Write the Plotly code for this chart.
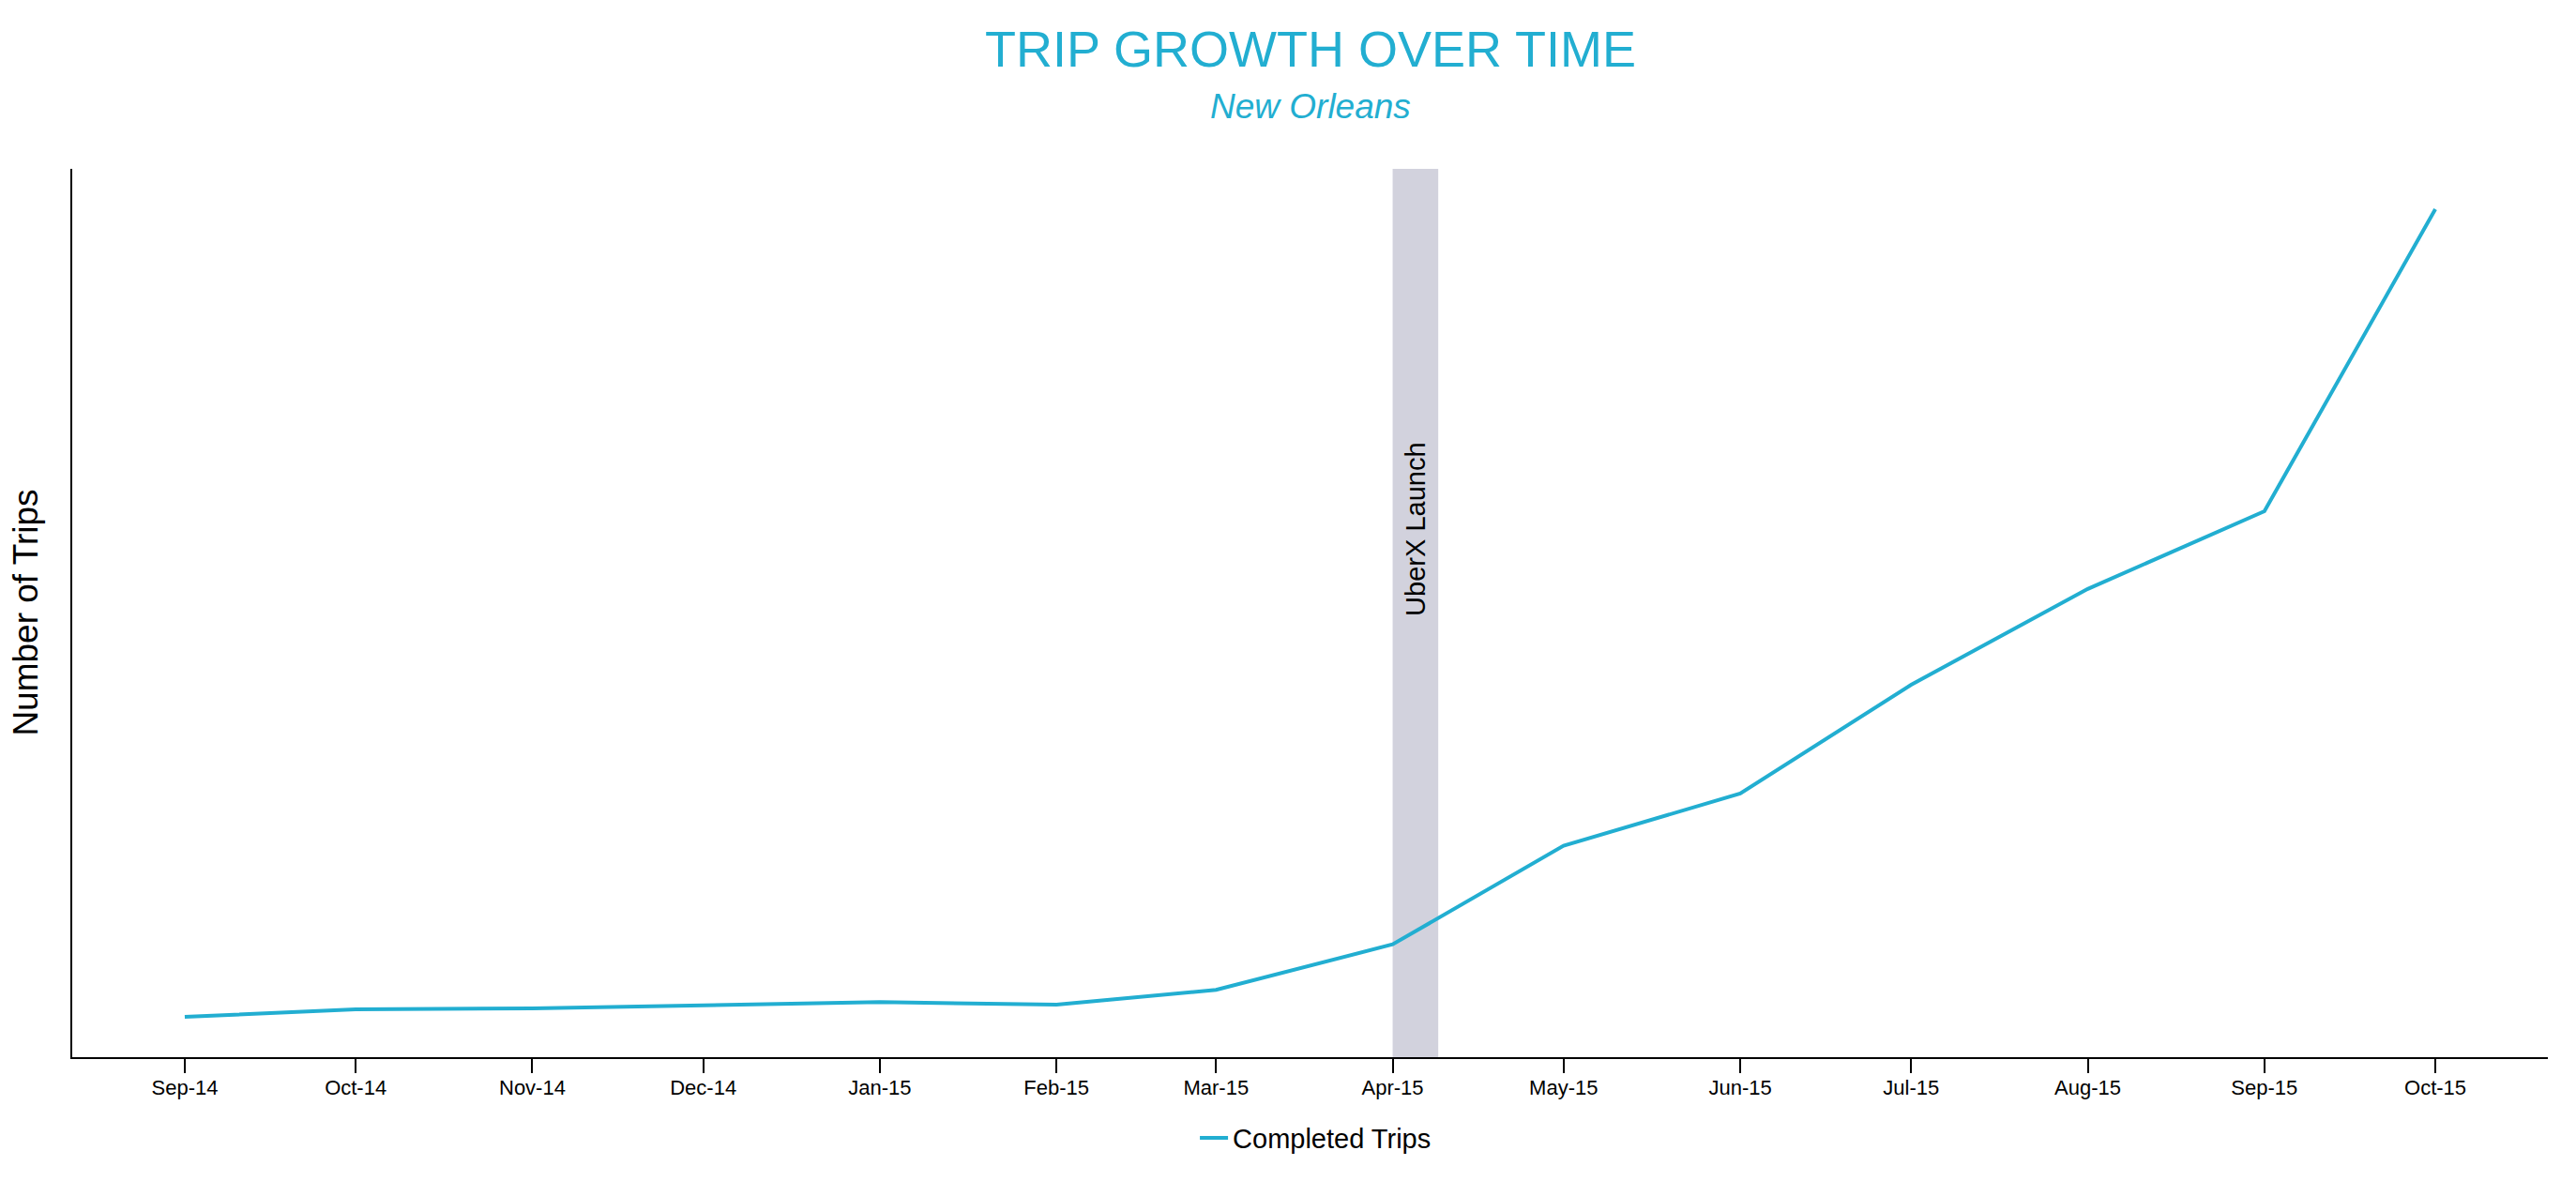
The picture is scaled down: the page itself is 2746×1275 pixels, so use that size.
import plotly.graph_objects as go

# monthly completed trips (thousands - y scale is not labelled)
months = ["2014-09-01", "2014-10-01", "2014-11-01", "2014-12-01", "2015-01-01",
          "2015-02-01", "2015-03-01", "2015-04-01", "2015-05-01", "2015-06-01",
          "2015-07-01", "2015-08-01", "2015-09-01", "2015-10-01"]
trips = [4.54, 5.39, 5.49, 5.81, 6.20, 5.91, 7.57, 12.70, 23.80, 29.68,
         41.92, 52.71, 61.46, 95.46]

launch_start = "2015-04-01"
launch_end = "2015-04-09"
launch_mid = "2015-04-05"
launch_label = "UberX Launch"

x_range = ["2014-08-12 06:00", "2015-10-20 18:00"]
y_range = [0, 100]

TEAL = "#22AED1"
FONT = "Liberation Sans, Arial, sans-serif"

fig = go.Figure()

fig.add_trace(go.Scatter(x=months,
                         y=trips,
                         mode="lines",
                         name="Completed Trips",
                         line=dict(color=TEAL, width=4)))

# uberx launch band
fig.add_shape(type="rect",
              xref="x", yref="paper",
              x0=launch_start, x1=launch_end, y0=0, y1=1,
              fillcolor="#D2D2DD", line=dict(width=0),
              layer="below")

fig.add_annotation(x=launch_mid, y=0.4947, xref="x", yref="paper",
                   text=launch_label, textangle=-90, showarrow=False,
                   xanchor="center", yanchor="bottom",
                   font=dict(family=FONT, size=29, color="black"))

# titles
fig.add_annotation(x=0.5, y=1.1347, xref="paper", yref="paper",
                   text="TRIP GROWTH OVER TIME", showarrow=False,
                   xanchor="center", yanchor="middle",
                   font=dict(family=FONT, size=54, color=TEAL))
fig.add_annotation(x=0.5, y=1.0702, xref="paper", yref="paper",
                   text="<i>New Orleans</i>", showarrow=False,
                   xanchor="center", yanchor="middle",
                   font=dict(family=FONT, size=37, color=TEAL))
fig.add_annotation(x=-0.0189, y=0.5, xref="paper", yref="paper",
                   text="Number of Trips", textangle=-90, showarrow=False,
                   xanchor="center", yanchor="middle",
                   font=dict(family=FONT, size=37, color="black"))

# page body has an 8px margin, so the figure is 16px smaller than the window
fig.update_layout(width=2730,
                  height=1259,
                  margin=dict(l=69, r=22, t=172, b=140),
                  paper_bgcolor="white",
                  plot_bgcolor="white",
                  font=dict(family=FONT, color="black"),
                  showlegend=True,
                  legend=dict(orientation="h", x=0.5023, xanchor="center",
                              y=-0.091, yanchor="middle",
                              font=dict(family=FONT, size=29, color="black")),
                  xaxis=dict(type="date",
                             range=x_range,
                             tick0="2014-09-01",
                             dtick="M1",
                             tickformat="%b-%y",
                             ticks="outside",
                             ticklen=15,
                             tickwidth=1.5,
                             tickcolor="black",
                             ticklabelstandoff=-3,
                             tickfont=dict(family=FONT, size=22, color="black"),
                             showline=True,
                             linecolor="black",
                             linewidth=2,
                             showgrid=False,
                             zeroline=False),
                  yaxis=dict(range=y_range,
                             showticklabels=False,
                             ticks="",
                             showline=True,
                             linecolor="black",
                             linewidth=2,
                             showgrid=False,
                             zeroline=False))

fig.write_html("out.html")
